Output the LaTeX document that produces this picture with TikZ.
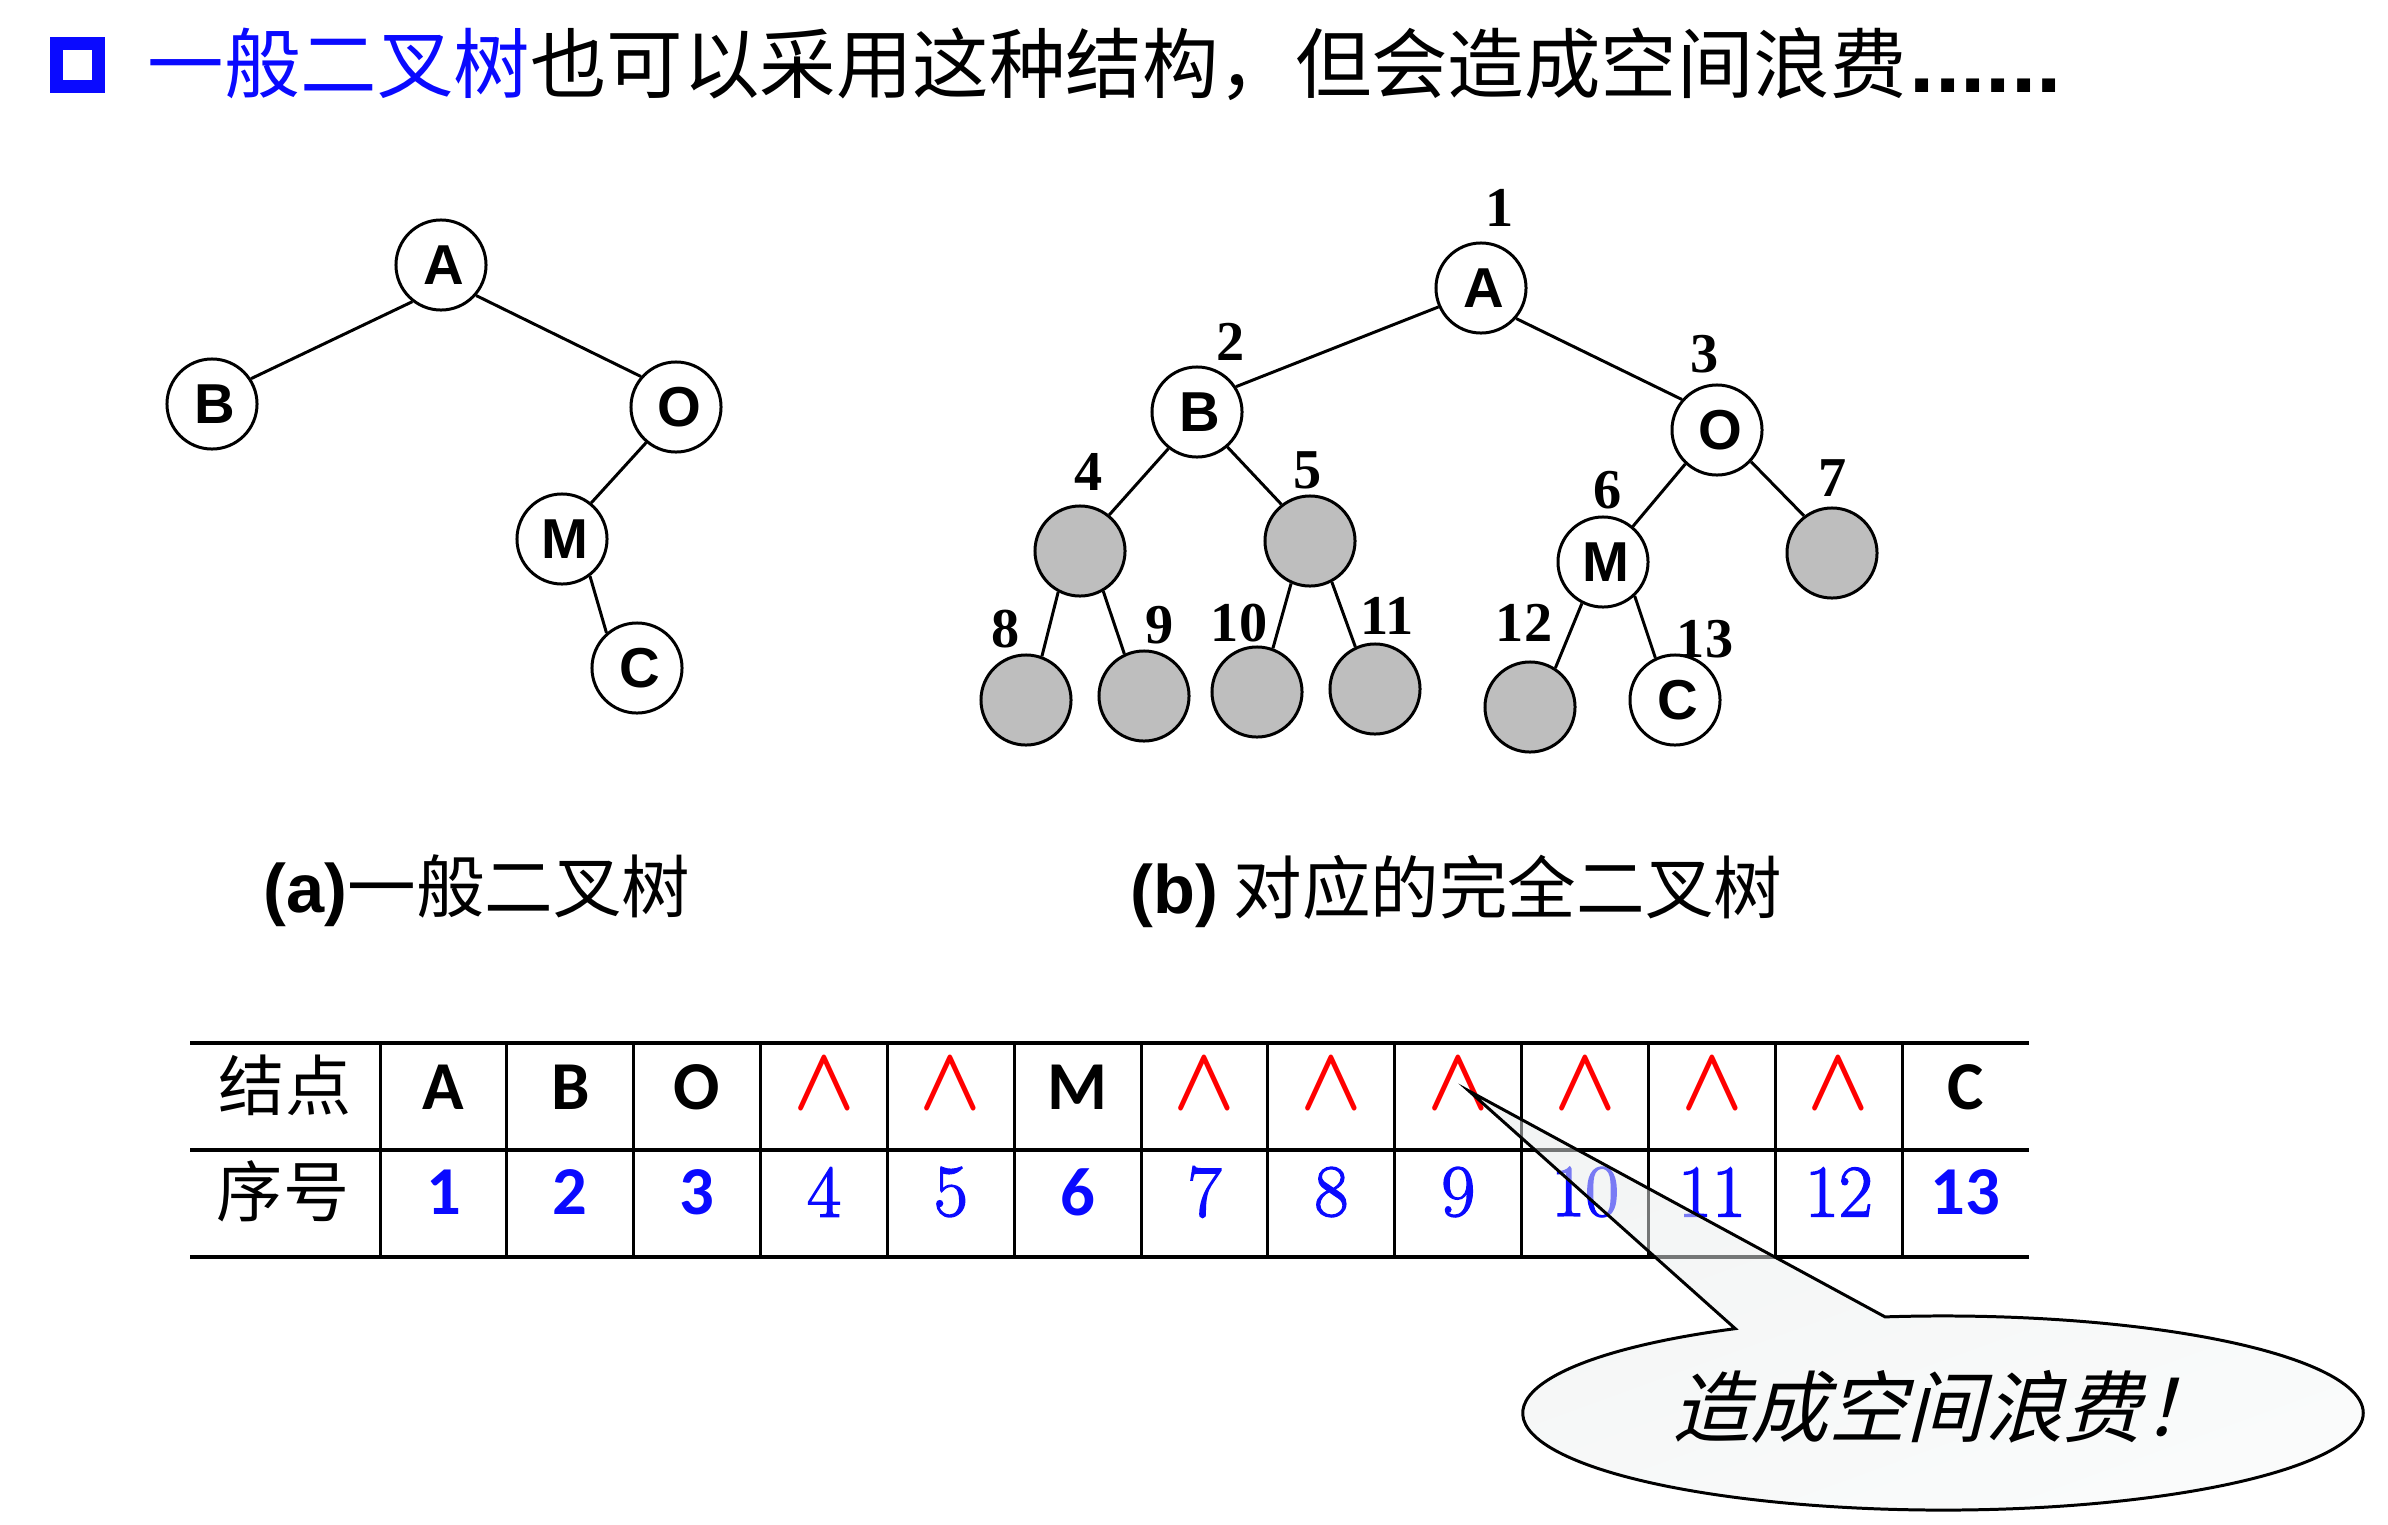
\documentclass[tikz,border=0pt]{standalone}
\usepackage{fontspec}
\newfontfamily\cjkfont{Noto Sans CJK SC}
\newfontfamily\cjkslant[FakeSlant=0.25]{Noto Sans CJK SC}
\newfontfamily\arialfont{Liberation Sans}
\newfontfamily\timesfont{Liberation Serif}
\newfontfamily\calfont{Carlito}
\newfontfamily\digitfont[FakeBold=2]{Latin Modern Roman}
\usetikzlibrary{positioning,shapes.callouts}
\definecolor{titleblue}{RGB}{10,10,255}
\definecolor{leafgray}{RGB}{190,190,190}
\definecolor{bubbledark}{RGB}{230,234,234}
\definecolor{bubblelight}{RGB}{246,248,248}
\tikzset{
	T node/.style={circle,fill=white,draw,line width=0.85pt,minimum size=0.9cm,inner sep=0pt,execute at begin node={\hspace{0.06cm}},font=\arialfont\bfseries\fontsize{16}{16}\selectfont},
	L node/.style={T node,fill=leafgray},
	num/.style={inner sep=0pt,font=\timesfont\bfseries\fontsize{16}{16}\selectfont},
	head/.style={inner sep=0pt,anchor=west,font=\cjkfont\fontsize{21.75}{22}\selectfont},
	caption/.style={inner sep=0pt,anchor=west,font=\cjkfont\fontsize{19.5}{20}\selectfont},
	row label/.style={inner sep=0pt,font=\cjkfont\fontsize{18.8}{19}\selectfont},
	letter cell/.style={inner sep=0pt,font=\calfont\bfseries\fontsize{19.5}{20}\selectfont},
	bold cell/.style={inner sep=0pt,text=titleblue,font=\calfont\bfseries\fontsize{19.5}{20}\selectfont},
	plain cell/.style={inner sep=0pt,text=titleblue,font=\digitfont\fontsize{21}{21}\selectfont},
	wedge cell/.style={inner sep=0pt,text=red,font=\fontsize{24}{24}\selectfont},
	rule/.style={line width=1.05pt},
}
\newcommand{\nullmark}{\scalebox{.92}[1.03]{\boldmath$\wedge$}}
\begin{document}
\begin{tikzpicture}[x=0.01cm,y=-0.01cm]
	\useasboundingbox (0,0) rectangle (2388,1524);

	% title line
	\node[draw=titleblue,line width=0.13cm,minimum size=0.42cm,inner sep=0pt] (box) at (77.5,65) {};
	\node[head] (title) at (147,64) {\textcolor{titleblue}{一般二叉树}也可以采用这种结构，但会造成空间浪费};
	\node[inner sep=0pt,anchor=west,font=\arialfont\bfseries\fontsize{25.9}{26}\selectfont] (dots) at (1909,86) {......};

	% tree a
	\node[T node] (ta) at (441,265) {A};
	\node[T node] (tb) at (212,404) {B};
	\node[T node] (to) at (676,407) {O};
	\node[T node] (tm) at (562,539) {M};
	\node[T node] (tc) at (637,668) {C};

	\path[draw,line width=0.85pt]
		(ta.232) edge (tb.33)
		(ta.-41) edge (to.139)
		(to.230) edge (tm.51)
		(tm.-53) edge (tc.131);

	% tree b
	\node[T node] (1) at (1481,288) {A};
	\node[T node] (2) at (1197,412) {B};
	\node[T node] (3) at (1717,430) {O};
	\node[L node] (4) at (1080,551) {};
	\node[L node] (5) at (1310,541) {};
	\node[T node] (6) at (1603,562) {M};
	\node[L node] (7) at (1832,553) {};
	\node[L node] (8) at (1026,700) {};
	\node[L node] (9) at (1144,696) {};
	\node[L node] (10) at (1257,692) {};
	\node[L node] (11) at (1375,689) {};
	\node[L node] (12) at (1530,707) {};
	\node[T node] (13) at (1675,700) {C};

	\path[draw,line width=0.85pt]
		(1.204) edge (2.33)
		(1.-41) edge (3.139)
		(2.232) edge (4.51)
		(2.-49) edge (5.128)
		(3.227) edge (6.50)
		(3.-43) edge (7.127)
		(4.242) edge (8.70)
		(4.-60) edge (9.115)
		(5.246) edge (10.70)
		(5.-62) edge (11.115)
		(6.243) edge (12.57)
		(6.-47) edge (13.115);

	\node[num] (n1) at (1500,208) {1};
	\node[num] (n2) at (1231,342) {2};
	\node[num] (n3) at (1705,354) {3};
	\node[num] (n4) at (1089,472) {4};
	\node[num] (n5) at (1308,470) {5};
	\node[num] (n6) at (1608,490) {6};
	\node[num] (n7) at (1833,478) {7};
	\node[num] (n8) at (1006,629) {8};
	\node[num] (n9) at (1160,625) {9};
	\node[num] (n10) at (1239,623) {10};
	\node[num] (n11) at (1387,616) {11};
	\node[num] (n12) at (1524,623) {12};
	\node[num] (n13) at (1705,639) {13};

	% captions
	\node[caption] (capa) at (263,891) {{\arialfont\bfseries (a)}一般二叉树};
	\node[caption] (capb) at (1130,891) {{\arialfont\bfseries (b)} 对应的完全二叉树};

	% table
	\foreach \y in {1043,1150,1257}
		\draw[rule] (190,\y) -- (2029,\y);
	\foreach \i in {0,...,12}
		\draw[line width=0.85pt] ({380+126.85*\i},1043) -- ({380+126.85*\i},1257);

	\node[row label] (rowa) at (285,1085) {结点};
	\node[row label] (rowb) at (283,1191) {序号};

	\foreach \i/\t in {1/A,2/B,3/O,6/M,13/C}
		\node[letter cell] (c\i) at ({380+126.85*(\i-.5)},1087) {\t};
	\foreach \i in {4,5,7,8,9,10,11,12}
		\node[wedge cell] (c\i) at ({380+126.85*(\i-.5)},1084) {\nullmark};
	\foreach \i in {1,2,3,6,13}
		\node[bold cell] (d\i) at ({380+126.85*(\i-.5)},1192) {\i};
	\foreach \i in {4,5,7,8,9,10,11,12}
		\node[plain cell] (d\i) at ({380+126.85*(\i-.5)},1192) {\i};

	% bubble
	\node[ellipse callout,draw,line width=0.85pt,left color=bubbledark,right color=bubblelight,shading angle=20,fill opacity=.5,text opacity=1,
		minimum width=8.4cm,minimum height=1.94cm,inner sep=0pt,
		callout absolute pointer={(1469,1091)},callout pointer arc=21.7] (bubble) at (1943,1413) {};
	\node[inner sep=0pt,anchor=west,font=\cjkslant\fontsize{22.2}{22}\selectfont] (bubbletext) at (1672,1407) {造成空间浪费！};
\end{tikzpicture}
\end{document}
